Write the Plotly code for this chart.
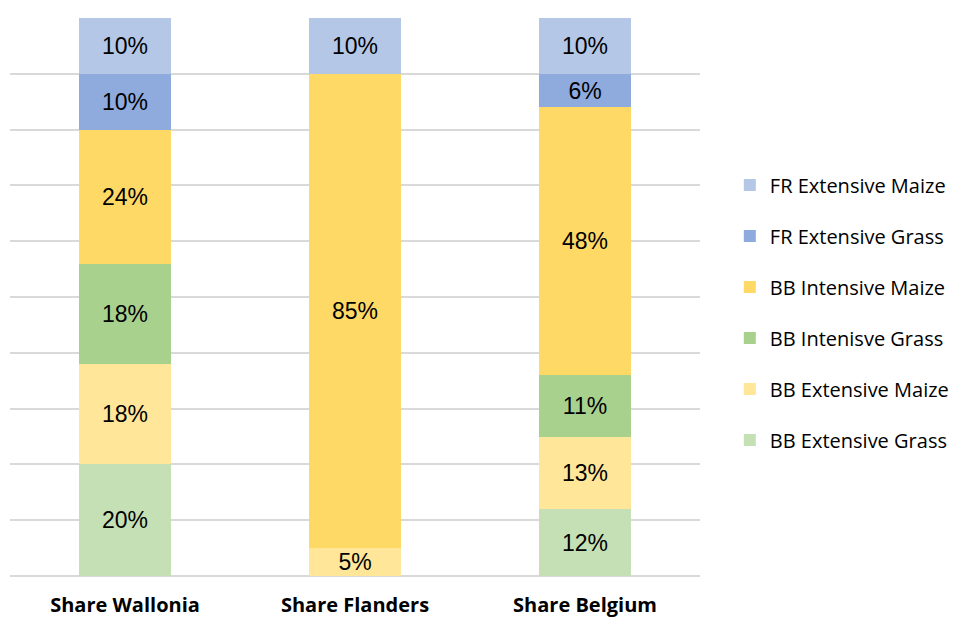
import plotly.graph_objects as go

categories = ["Share Wallonia", "Share Flanders", "Share Belgium"]

# series listed bottom of stack -> top of stack
series_names = [
    "BB Extensive Grass",
    "BB Extensive Maize",
    "BB Intenisve Grass",
    "BB Intensive Maize",
    "FR Extensive Grass",
    "FR Extensive Maize",
]
series_values = [
    [0.20, 0.00, 0.12],
    [0.18, 0.05, 0.13],
    [0.18, 0.00, 0.11],
    [0.24, 0.85, 0.48],
    [0.10, 0.00, 0.06],
    [0.10, 0.10, 0.10],
]
series_colors = ["#C5E0B4", "#FFE699", "#A9D18E", "#FFD966", "#8FAADC", "#B4C7E7"]

fig = go.Figure()

n = len(series_names)
for i, (name, vals, col) in enumerate(zip(series_names, series_values, series_colors)):
    labels = [f"{v:.0%}" if v > 0 else "" for v in vals]
    fig.add_trace(go.Bar(
        x=categories, y=vals, name=name, legendgroup=name,
        legendrank=n - i,  # top of stack listed first in legend
        marker=dict(color=col, line=dict(width=0)),
        text=labels, textposition="inside", insidetextanchor="middle",
        textfont=dict(family="Liberation Sans, Arial", size=23, color="black"),
        hoverinfo="skip",
    ))

# page body has an 8px margin, so the figure is sized/offset to compensate
fig.update_layout(
    barmode="stack",
    bargap=0.6,
    width=951, height=609,
    margin=dict(l=2, r=259, t=10, b=41),
    paper_bgcolor="white",
    plot_bgcolor="white",
    uniformtext=dict(minsize=23, mode="show"),
    xaxis=dict(
        tickfont=dict(family="Open Sans, Liberation Sans", size=20, color="black", weight="bold"),
        showline=False, ticks="", ticklabelstandoff=15, automargin=False,
    ),
    yaxis=dict(
        range=[0, 1], dtick=0.1, showticklabels=False,
        showgrid=True, gridcolor="#D9D9D9", gridwidth=1.5,
        zeroline=True, zerolinecolor="#D9D9D9", zerolinewidth=1.5,
    ),
    legend=dict(
        xref="container", yref="container",
        x=0.759, y=0.5, xanchor="left", yanchor="middle",
        traceorder="grouped", tracegroupgap=22,
        font=dict(family="Open Sans, Liberation Sans", size=20, color="black"),
        itemwidth=30,
    ),
)

fig.write_html("out.html")
